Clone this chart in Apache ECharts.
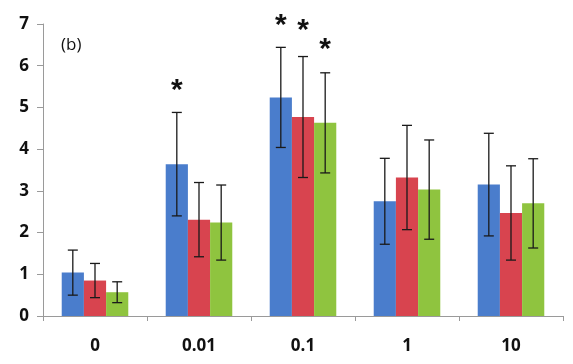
<!DOCTYPE html>
<html><head><meta charset="utf-8">
<script src="https://cdn.jsdelivr.net/npm/echarts@6/dist/echarts.min.js"></script>
<style>html,body{margin:0;padding:0;background:#fff}#c{width:573px;height:364px}</style>
</head><body><div id="c"></div>
<script>
var categories = ['0', '0.01', '0.1', '1', '10'];
var blueValues = [1.04, 3.64, 5.24, 2.75, 3.15];
var blueErr = [0.54, 1.24, 1.20, 1.03, 1.23];
var redValues = [0.85, 2.31, 4.77, 3.32, 2.47];
var redErr = [0.41, 0.89, 1.45, 1.25, 1.13];
var greenValues = [0.57, 2.24, 4.63, 3.03, 2.70];
var greenErr = [0.25, 0.90, 1.20, 1.19, 1.07];
// significance markers: 1 = asterisk above error bar
var blueStar = [0, 1, 1, 0, 0];
var redStar = [0, 0, 1, 0, 0];
var greenStar = [0, 0, 1, 0, 0];
var yTicks = [0, 1, 2, 3, 4, 5, 6, 7];

var colors = ['#4A7DCC', '#D8444F', '#8FC43F'];
var groups = [
  {v: blueValues, e: blueErr, s: blueStar},
  {v: redValues, e: redErr, s: redStar},
  {v: greenValues, e: greenErr, s: greenStar}
];
var catGap = 0.36;
var starLift = [22, 26, 23];

var series = [];
groups.forEach(function (g, i) {
  series.push({
    type: 'bar', data: g.v, barGap: '0%', barCategoryGap: (catGap * 100) + '%',
    itemStyle: {color: colors[i]}, z: 2, silent: true
  });
});
groups.forEach(function (g, i) {
  var data = g.v.map(function (v, k) { return [k, v - g.e[k], v + g.e[k], g.s[k]]; });
  series.push({
    type: 'custom', z: 5, silent: true,
    data: data,
    renderItem: function (params, api) {
      var k = api.value(0);
      var lo = api.coord([k, api.value(1)]);
      var hi = api.coord([k, api.value(2)]);
      var catW = api.size([1, 0])[0];
      var bw = catW * (1 - catGap) / 3;
      var x = lo[0] + (i - 1) * bw;
      var cap = 5;
      var st = {stroke: '#1a1a1a', lineWidth: 1.3};
      var ch = [
        {type: 'line', shape: {x1: x, y1: lo[1], x2: x, y2: hi[1]}, style: st},
        {type: 'line', shape: {x1: x - cap, y1: lo[1], x2: x + cap, y2: lo[1]}, style: st},
        {type: 'line', shape: {x1: x - cap, y1: hi[1], x2: x + cap, y2: hi[1]}, style: st}
      ];
      if (api.value(3)) {
        ch.push({type: 'text', x: x, y: hi[1] - starLift[i],
          style: {text: '*', fill: '#111', font: 'bold 30px "Liberation Sans", Arial', align: 'center', verticalAlign: 'middle'}});
      }
      return {type: 'group', children: ch};
    }
  });
});

var chart = echarts.init(document.getElementById('c'));
chart.setOption({
  animation: false,
  backgroundColor: '#fff',
  grid: {left: 43, right: 10, top: 24, bottom: 48},
  graphic: [{type: 'text', left: 61, top: 37, style: {text: '(b)', font: '17px "Open Sans", "DejaVu Sans", sans-serif', fill: '#111'}}],
  xAxis: {
    type: 'category', data: categories,
    axisLine: {lineStyle: {color: '#9a9a9a', width: 1}},
    axisTick: {show: true, length: 5, lineStyle: {color: '#9a9a9a'}},
    axisLabel: {color: '#111', fontSize: 17, fontWeight: 'bold', fontFamily: '"Open Sans", "DejaVu Sans", sans-serif', margin: 22}
  },
  yAxis: {
    type: 'value', min: yTicks[0], max: yTicks[yTicks.length - 1], interval: 1,
    axisLine: {show: true, lineStyle: {color: '#9a9a9a', width: 1}},
    axisTick: {show: true, length: 6, lineStyle: {color: '#9a9a9a'}},
    splitLine: {show: false},
    axisLabel: {color: '#111', fontSize: 17, fontWeight: 'bold', fontFamily: '"Open Sans", "DejaVu Sans", sans-serif', margin: 14}
  },
  series: series
});
</script></body></html>
